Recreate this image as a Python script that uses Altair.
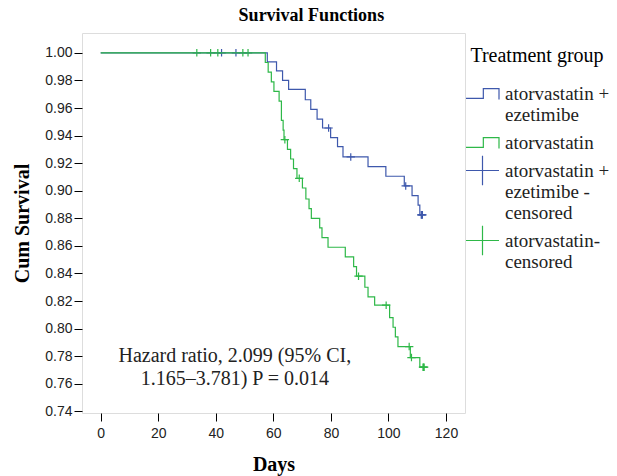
import altair as alt
import pandas as pd

# ---- data ----
group_keys = ["atorvastatin +|ezetimibe", "atorvastatin"]
censor_keys = ["atorvastatin +|ezetimibe -|censored", "atorvastatin-|censored"]

blue_days = [0, 57.9, 61.1, 63.2, 65.3, 71.1, 73.0, 75.2, 77.1, 79.9, 82.3, 84.2,
             92.9, 99.1, 105.5, 108.2, 110.3, 110.9, 111.8]
blue_surv = [1.0, 0.9935, 0.987, 0.980, 0.9735, 0.966, 0.959, 0.952, 0.9455, 0.9385,
             0.932, 0.9245, 0.9175, 0.9105, 0.9035, 0.8965, 0.8895, 0.8825, 0.8825]

green_days = [0, 57.2, 58.2, 59.3, 60.2, 62.0, 62.8, 63.4, 63.7, 64.9, 66.0, 67.0, 68.2,
              70.1, 71.3, 72.4, 73.2, 76.1, 76.9, 79.0, 85.0, 87.9, 88.9, 91.8, 92.9,
              95.2, 100.4, 101.6, 102.4, 103.3, 107.6, 110.9, 112.4]
green_surv = [1.0, 0.993, 0.986, 0.979, 0.972, 0.965, 0.951, 0.944, 0.937, 0.930, 0.923,
              0.916, 0.909, 0.902, 0.894, 0.887, 0.880, 0.873, 0.866, 0.859, 0.852, 0.845,
              0.838, 0.830, 0.823, 0.817, 0.808, 0.801, 0.794, 0.787, 0.779, 0.772, 0.772]

blue_cens_days = [42.0, 47.0, 79.2, 86.9, 106.0, 111.4, 111.6, 111.8]
blue_cens_surv = [1.0, 1.0, 0.9455, 0.9245, 0.9035, 0.8825, 0.8825, 0.8825]

green_cens_days = [33.4, 38.2, 40.7, 49.4, 51.2, 64.0, 69.0, 89.6, 99.2, 107.2, 108.0,
                   112.0, 112.2, 112.4]
green_cens_surv = [1.0, 1.0, 1.0, 1.0, 1.0, 0.937, 0.909, 0.838, 0.817, 0.787, 0.779,
                   0.772, 0.772, 0.772]

x_ticks = [0, 20, 40, 60, 80, 100, 120]
y_ticks = [0.74, 0.76, 0.78, 0.80, 0.82, 0.84, 0.86, 0.88, 0.90, 0.92, 0.94, 0.96, 0.98, 1.00]

note_lines = ["Hazard ratio, 2.099 (95% CI,", "1.165\u20133.781) P = 0.014"]

# ---- tables ----
line_df = pd.DataFrame({
    "day": blue_days + green_days,
    "surv": blue_surv + green_surv,
    "key": [group_keys[0]] * len(blue_days) + [group_keys[1]] * len(green_days),
})
cens_df = pd.DataFrame({
    "day": blue_cens_days + green_cens_days,
    "surv": blue_cens_surv + green_cens_surv,
    "key": [censor_keys[0]] * len(blue_cens_days) + [censor_keys[1]] * len(green_cens_days),
})
note_df = pd.DataFrame({"day": [46.6], "surv": [0.7805], "text": ["\n".join(note_lines)]})

domain = group_keys + censor_keys
colors = ["#3E58AC", "#2EB848", "#3E58AC", "#2EB848"]
step_path = "M-1,0.3H0.05V-0.3H1V0.36"
cross_path = "M-1,0H1M0,-0.9V0.9"
shapes = [step_path, step_path, cross_path, cross_path]

serif = "Liberation Serif"
sans = "Liberation Sans"

x_enc = alt.X("day:Q",
              scale=alt.Scale(domain=[-6.5, 126.6], nice=False, zero=False),
              axis=alt.Axis(values=x_ticks, tickCount=20, title="Days", grid=False,
                            domain=False, tickSize=8, tickColor="#000", labelFont=sans,
                            labelFontSize=14, labelColor="#222", labelPadding=5,
                            titleFont=serif, titleFontSize=20, titleFontWeight="bold",
                            titleColor="#000", titlePadding=14, labelOverlap=False))
y_enc = alt.Y("surv:Q",
              scale=alt.Scale(domain=[0.7388, 1.0144], nice=False, zero=False),
              axis=alt.Axis(values=y_ticks, tickCount=30, format=".2f", title="Cum Survival",
                            grid=False, domain=False, tickSize=8, tickColor="#000",
                            labelFont=sans, labelFontSize=14, labelColor="#222",
                            labelPadding=2, titleFont=serif, titleFontSize=20,
                            titleFontWeight="bold", titleColor="#000", titlePadding=12,
                            labelOverlap=False))

legend = alt.Legend(title="Treatment group", orient="none", legendX=383, legendY=13,
                    padding=0, titleFont=serif, titleFontSize=20, titleFontWeight="normal",
                    titleColor="#000", titleAnchor="middle", titlePadding=10,
                    labelFont=serif, labelFontSize=19, labelColor="#222",
                    labelExpr="split(datum.label, '|')", labelOffset=5, labelLimit=300,
                    symbolSize=1089, symbolStrokeWidth=1.2, symbolFillColor="transparent",
                    rowPadding=-4)

color_enc = alt.Color("key:N", scale=alt.Scale(domain=domain, range=colors), legend=legend)
shape_enc = alt.Shape("key:N", scale=alt.Scale(domain=domain, range=shapes), legend=legend)

lines = alt.Chart(line_df).mark_line(interpolate="step-after", strokeWidth=1.2).encode(
    x=x_enc, y=y_enc, color=color_enc)

points = alt.Chart(cens_df).mark_point(filled=False, size=70, strokeWidth=1.2, opacity=1).encode(
    x=x_enc, y=y_enc, color=color_enc, shape=shape_enc)

note = alt.Chart(note_df).mark_text(font=serif, fontSize=20, lineBreak="\n", lineHeight=23,
                                    color="#222", align="center", baseline="middle").encode(
    x="day:Q", y="surv:Q", text="text:N")

chart = alt.layer(points, lines, note).properties(
    width=383, height=380,
    title=alt.TitleParams("Survival Functions", font=serif, fontSize=18, fontWeight="bold",
                          color="#000", anchor="middle", frame="bounds", offset=8),
    autosize=alt.AutoSizeParams(type="none"),
    padding={"left": 82, "top": 33, "right": 152, "bottom": 63},
).configure_view(
    stroke="#000", strokeWidth=1, fill="#F0F0F0"
).configure_legend(
    labelFont=serif, titleFont=serif, labelFontSize=19, labelColor="#222"
).configure(
    background="white", font=serif,
    style={"guide-label": {"font": serif, "fontSize": 19}},
)

chart.save("out.html", embed_options={"renderer": "svg", "actions": False})
